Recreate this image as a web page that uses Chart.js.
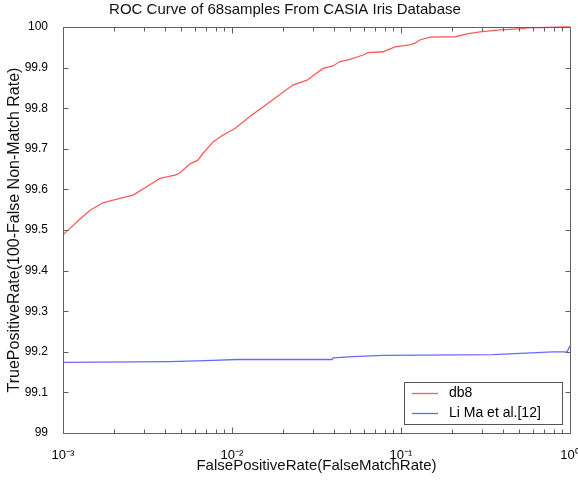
<!DOCTYPE html>
<html>
<head>
<meta charset="utf-8">
<script src="https://cdn.jsdelivr.net/npm/chart.js@4/dist/chart.umd.min.js"></script>
<style>
  html, body { margin: 0; padding: 0; background: #fff; }
</style>
</head>
<body>
<canvas id="roc" width="578" height="485"></canvas>
<script>
// values
const db8Fpr = [0.001, 0.0011, 0.00126, 0.00144, 0.00172, 0.00217, 0.0026, 0.00314, 0.00375, 0.0046,
  0.00492, 0.00564, 0.00629, 0.00674, 0.00772, 0.00885, 0.0104, 0.0131, 0.0168, 0.0229,
  0.0278, 0.0345, 0.0396, 0.0435, 0.0499, 0.0596, 0.0638, 0.0782, 0.0921, 0.113,
  0.121, 0.129, 0.149, 0.209, 0.246, 0.293, 0.385, 0.527, 0.555, 0.96, 1];
const db8Tpr = [99.488, 99.504, 99.527, 99.548, 99.567, 99.578, 99.586, 99.607, 99.627, 99.635,
  99.641, 99.663, 99.672, 99.689, 99.717, 99.734, 99.75, 99.783, 99.816, 99.857,
  99.869, 99.898, 99.904, 99.915, 99.92, 99.931, 99.937, 99.939, 99.951, 99.956,
  99.96, 99.968, 99.975, 99.976, 99.983, 99.988, 99.993, 99.996, 99.998, 100, 100];

const liMaFpr = [0.001, 0.0043, 0.00772, 0.0107, 0.0391, 0.0397, 0.052, 0.078, 0.135, 0.35, 0.794, 0.96, 1];
const liMaTpr = [99.174, 99.176, 99.179, 99.181, 99.181, 99.185, 99.188, 99.191, 99.192, 99.193, 99.2, 99.2, 99.214];

const seriesLabels = ['db8', 'Li Ma et al.[12]'];
const xTickValues = [0.001, 0.01, 0.1, 1];
const xTickLabels = ['10\u207B\u00B3', '10\u207B\u00B2', '10\u207B\u00B9', '10\u2070'];
const yTickValues = [99, 99.1, 99.2, 99.3, 99.4, 99.5, 99.6, 99.7, 99.8, 99.9, 100];

const axisColor = '#606060';
const font = 'Arial, "Liberation Sans", sans-serif';

// MATLAB-ish box, inward ticks and a legend inside the axes
const matlabAxes = {
  id: 'matlabAxes',
  afterDraw(chart) {
    const ctx = chart.ctx;
    const { left, right, top, bottom } = chart.chartArea;
    const xs = chart.scales.x, ys = chart.scales.y;
    const L = Math.round(left) + 0.5, R = Math.round(right) + 0.5;
    const T = Math.round(top) + 0.5, B = Math.round(bottom) + 0.5;
    ctx.save();
    ctx.strokeStyle = axisColor;
    ctx.lineWidth = 1;
    ctx.strokeRect(L, T, R - L, B - T);

    const marks = [];
    xTickValues.slice(0, -1).forEach(d => {
      for (let m = 1; m <= 9; m++) marks.push({ v: d * m, len: m === 1 ? 6 : 4 });
    });
    marks.push({ v: xTickValues[xTickValues.length - 1], len: 6 });
    marks.forEach(mk => {
      const px = Math.round(xs.getPixelForValue(mk.v)) + 0.5;
      ctx.beginPath();
      ctx.moveTo(px, B); ctx.lineTo(px, B - mk.len);
      ctx.moveTo(px, T); ctx.lineTo(px, T + mk.len);
      ctx.stroke();
    });
    yTickValues.forEach(v => {
      const py = Math.round(ys.getPixelForValue(v)) + 0.5;
      ctx.beginPath();
      ctx.moveTo(L, py); ctx.lineTo(L + 5, py);
      ctx.moveTo(R, py); ctx.lineTo(R - 5, py);
      ctx.stroke();
    });

    // legend
    const w = 158, h = 42;
    const x0 = Math.round(right - 8 - w), y0 = Math.round(bottom - 9 - h);
    ctx.fillStyle = '#fff';
    ctx.fillRect(x0, y0, w, h);
    ctx.strokeStyle = '#555';
    ctx.strokeRect(x0 + 0.5, y0 + 0.5, w, h);
    ctx.font = '14px ' + font;
    ctx.textBaseline = 'middle';
    chart.data.datasets.forEach((ds, i) => {
      const ly = y0 + 11 + i * 20;
      ctx.strokeStyle = ds.borderColor;
      ctx.lineWidth = 1.3;
      ctx.beginPath();
      ctx.moveTo(x0 + 8, ly + 0.5);
      ctx.lineTo(x0 + 34, ly + 0.5);
      ctx.stroke();
      ctx.fillStyle = '#000';
      ctx.fillText(ds.label, x0 + 45, ly);
    });
    ctx.restore();
  }
};

new Chart(document.getElementById('roc'), {
  type: 'line',
  data: {
    datasets: [{
      label: seriesLabels[0],
      data: db8Fpr.map((v, i) => ({ x: v, y: db8Tpr[i] })),
      borderColor: 'rgb(255, 90, 90)',
      borderWidth: 1.3,
      pointRadius: 0,
      tension: 0,
      clip: 4
    }, {
      label: seriesLabels[1],
      data: liMaFpr.map((v, i) => ({ x: v, y: liMaTpr[i] })),
      borderColor: 'rgb(105, 105, 255)',
      borderWidth: 1.3,
      pointRadius: 0,
      tension: 0,
      clip: 4
    }]
  },
  options: {
    responsive: false,
    animation: false,
    layout: { padding: { left: 0, right: 8, top: 0, bottom: 0 } },
    plugins: {
      legend: { display: false },
      tooltip: { enabled: false },
      title: {
        display: true,
        text: 'ROC Curve of 68samples From CASIA Iris Database',
        color: '#111',
        font: { family: font, size: 15, weight: 'normal' },
        padding: { top: 1, bottom: 8 }
      }
    },
    scales: {
      x: {
        type: 'logarithmic',
        min: 0.001,
        max: 1,
        grid: { display: false },
        border: { display: false },
        ticks: {
          autoSkip: false,
          maxRotation: 0,
          padding: 7,
          color: '#000',
          font: { family: font, size: 13 },
          callback: value => {
            const i = xTickValues.findIndex(v => Math.abs(v - value) / v < 1e-6);
            return i >= 0 ? xTickLabels[i] : '';
          }
        },
        title: {
          display: true,
          text: 'FalsePositiveRate(FalseMatchRate)',
          color: '#111',
          font: { family: font, size: 15 },
          padding: { top: 0, bottom: 10 }
        },
        afterFit: s => { s.height = 52; s.paddingRight = 0; s.paddingLeft = 0; }
      },
      y: {
        min: 99,
        max: 100,
        grid: { display: false },
        border: { display: false },
        ticks: {
          stepSize: 0.1,
          padding: 7,
          color: '#000',
          font: { family: font, size: 12 },
          callback: value => String(Number(value.toFixed(1)))
        },
        title: {
          display: true,
          text: 'TruePositiveRate(100-False Non-Match Rate)',
          color: '#111',
          font: { family: font, size: 16 },
          padding: { top: 5, bottom: 0 }
        },
        afterFit: s => { s.width = 63; }
      }
    }
  },
  plugins: [matlabAxes]
});
</script>
</body>
</html>
